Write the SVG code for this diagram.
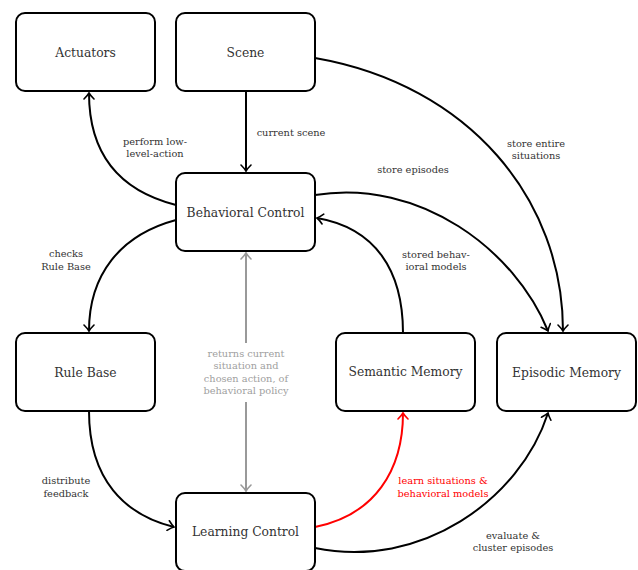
<svg xmlns="http://www.w3.org/2000/svg" width="638" height="570" viewBox="0 0 638 570">
<style>
.node rect{fill:#fff;stroke:#000;stroke-width:2}
.node text{font-family:'DejaVu Serif',serif;font-size:12.3px;fill:#333;text-anchor:middle}
.lbl{font-family:'DejaVu Serif',serif;font-size:9.8px;fill:#333;text-anchor:middle}
.e{fill:none;stroke:#000;stroke-width:2}
</style>
<defs>
<marker id="ahk" viewBox="-7 -6 9 12" markerWidth="9" markerHeight="12" refX="0" refY="0" orient="auto-start-reverse" markerUnits="userSpaceOnUse">
<path d="M-6,-5 C-3.5,-2.5 -1.5,-0.8 0,0 C-1.5,0.8 -3.5,2.5 -6,5" fill="none" stroke="#000" stroke-width="1.6" stroke-linecap="round"/>
</marker>
<marker id="ahr" viewBox="-7 -6 9 12" markerWidth="9" markerHeight="12" refX="0" refY="0" orient="auto" markerUnits="userSpaceOnUse">
<path d="M-6,-5 C-3.5,-2.5 -1.5,-0.8 0,0 C-1.5,0.8 -3.5,2.5 -6,5" fill="none" stroke="#f00" stroke-width="1.6" stroke-linecap="round"/>
</marker>
<marker id="ahg" viewBox="-7 -6 9 12" markerWidth="9" markerHeight="12" refX="0" refY="0" orient="auto-start-reverse" markerUnits="userSpaceOnUse">
<path d="M-6,-5 C-3.5,-2.5 -1.5,-0.8 0,0 C-1.5,0.8 -3.5,2.5 -6,5" fill="none" stroke="#999" stroke-width="1.6" stroke-linecap="round"/>
</marker>
</defs>
<rect width="638" height="570" fill="#fff"/>
<g id="connectors">
<path class="e" d="M176,205 C125,192 89,160 89,93" marker-end="url(#ahk)"/>
<path class="e" d="M246,91 L246,171" marker-end="url(#ahk)"/>
<path class="e" d="M315,58 C470,85 563,200 563,331" marker-end="url(#ahk)"/>
<path class="e" d="M315,195 C420,178 515,250 548,331" marker-end="url(#ahk)"/>
<path class="e" d="M403,333 C403,270 375,228 317,218" marker-end="url(#ahk)"/>
<path class="e" d="M176,220 C120,235 89,275 89,331" marker-end="url(#ahk)"/>
<path class="e" d="M89,411 C89,480 125,515 174,527" marker-end="url(#ahk)"/>
<path d="M315,527 C375,515 403,470 403,413" fill="none" stroke="#f00" stroke-width="2" marker-end="url(#ahr)"/>
<path class="e" d="M315,548 C420,570 520,500 548,413" marker-end="url(#ahk)"/>
<path d="M246,343 L246,253" fill="none" stroke="#999" stroke-width="2" marker-end="url(#ahg)"/>
<path d="M246,402 L246,491" fill="none" stroke="#999" stroke-width="2" marker-end="url(#ahg)"/>
<text class="lbl" x="155" y="145">perform low-</text>
<text class="lbl" x="155" y="157">level-action</text>
<text class="lbl" x="291" y="136">current scene</text>
<text class="lbl" x="536" y="147">store entire</text>
<text class="lbl" x="536" y="159">situations</text>
<text class="lbl" x="413" y="173">store episodes</text>
<text class="lbl" x="436" y="258">stored behav-</text>
<text class="lbl" x="436" y="270">ioral models</text>
<text class="lbl" x="66" y="257">checks</text>
<text class="lbl" x="66" y="270">Rule Base</text>
<text class="lbl" x="246" y="357" style="fill:#a0a0a0">returns current</text>
<text class="lbl" x="246" y="369" style="fill:#a0a0a0">situation and</text>
<text class="lbl" x="246" y="382" style="fill:#a0a0a0">chosen action, of</text>
<text class="lbl" x="246" y="394" style="fill:#a0a0a0">behavioral policy</text>
<text class="lbl" x="66" y="484">distribute</text>
<text class="lbl" x="66" y="497">feedback</text>
<text class="lbl" x="443" y="484" style="fill:#f00">learn situations &amp;</text>
<text class="lbl" x="443" y="497" style="fill:#f00">behavioral models</text>
<text class="lbl" x="513" y="539">evaluate &amp;</text>
<text class="lbl" x="513" y="551">cluster episodes</text>
</g>
<g id="actuators" class="node"><rect x="16" y="13" width="139" height="78" rx="9"/><text x="85.5" y="57">Actuators</text></g>
<g id="scene" class="node"><rect x="176" y="13" width="139" height="78" rx="9"/><text x="245.5" y="57">Scene</text></g>
<g id="behavioral-control" class="node"><rect x="176" y="173" width="139" height="78" rx="9"/><text x="245.5" y="217">Behavioral Control</text></g>
<g id="rule-base" class="node"><rect x="16" y="333" width="139" height="78" rx="9"/><text x="85.5" y="377">Rule Base</text></g>
<g id="semantic-memory" class="node"><rect x="336" y="333" width="139" height="78" rx="9"/><text x="405.5" y="376">Semantic Memory</text></g>
<g id="episodic-memory" class="node"><rect x="497" y="333" width="139" height="78" rx="9"/><text x="566.5" y="377">Episodic Memory</text></g>
<g id="learning-control" class="node"><rect x="176" y="493" width="139" height="78" rx="9"/><text x="245.5" y="536">Learning Control</text></g>
</svg>
